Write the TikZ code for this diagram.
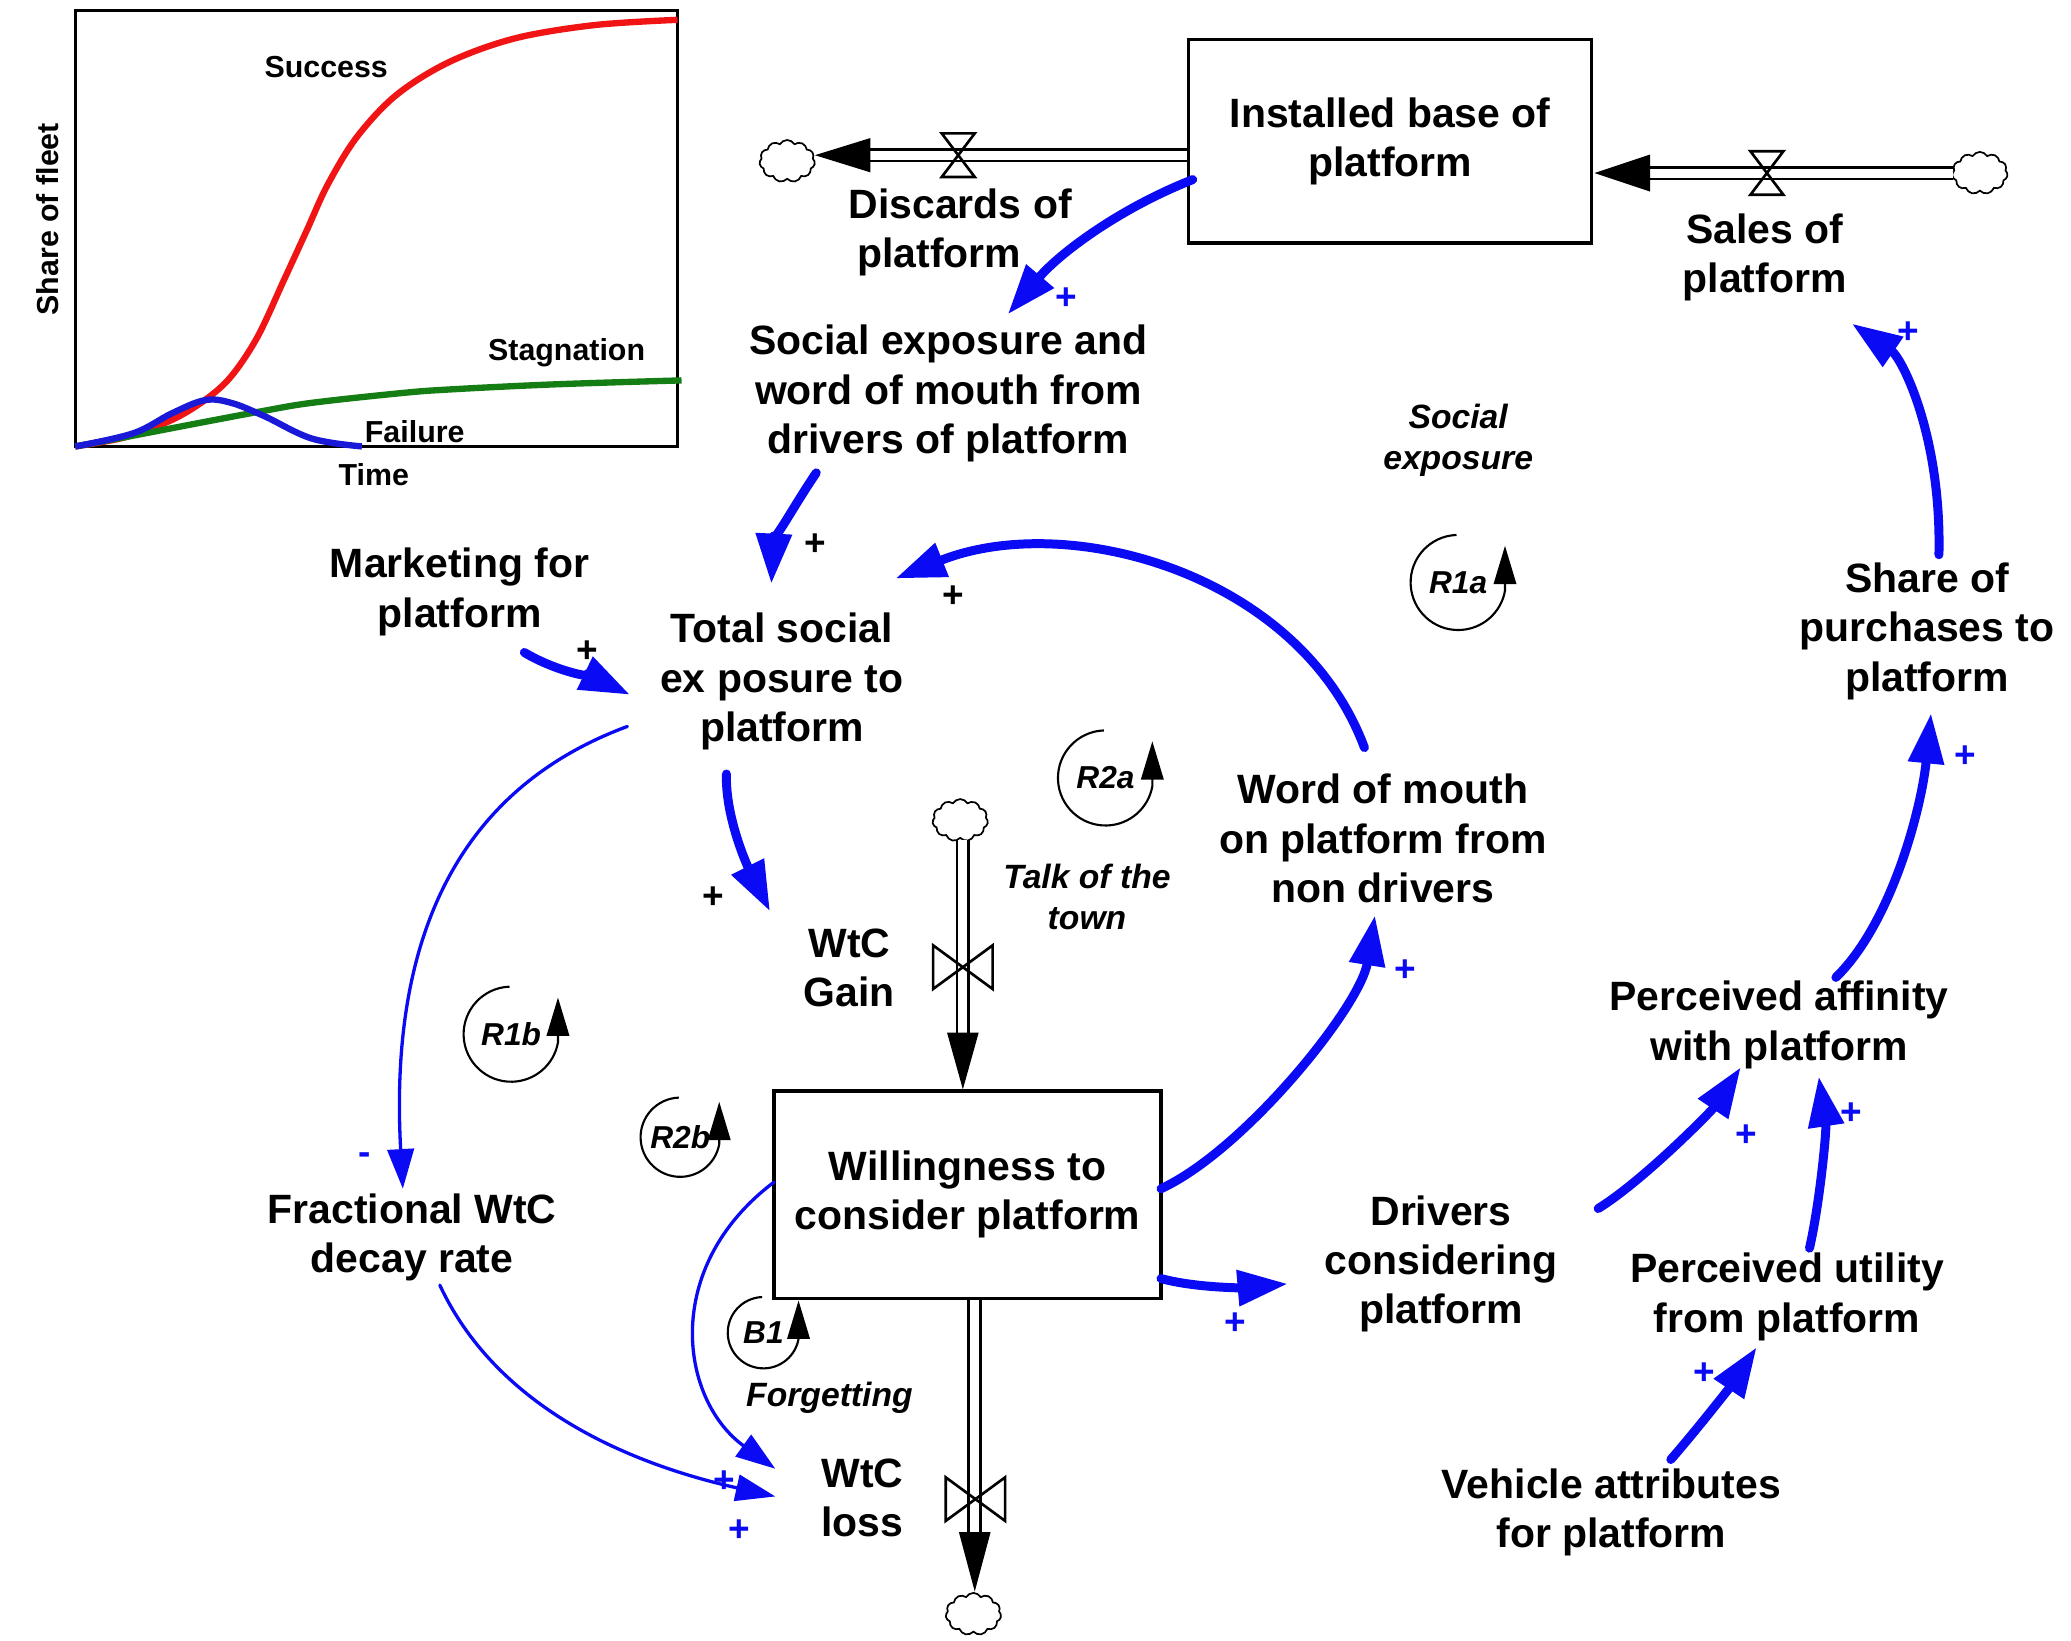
\documentclass[tikz,border=0pt]{standalone}
\usepackage{fontspec}
\setmainfont{Liberation Sans}
\usetikzlibrary{arrows.meta,shapes.symbols,calc}
\definecolor{cbl}{RGB}{10,10,245}
\definecolor{cred}{RGB}{240,20,20}
\definecolor{cgrn}{RGB}{20,125,20}
\definecolor{cfb}{RGB}{25,25,215}
\begin{document}
\begin{tikzpicture}[x=0.5pt,y=-0.5pt,
 txt/.style={font=\bfseries\fontsize{15.5}{18.7}\selectfont,align=center,inner sep=0pt},
 itx/.style={font=\bfseries\itshape\fontsize{12.75}{15.5}\selectfont,align=center,inner sep=0pt},
 ctx/.style={font=\bfseries\fontsize{11.5}{14}\selectfont,inner sep=0pt},
 stock/.style={txt,draw,line width=1.25pt},
 pipe/.style={draw=black,line width=1.05pt,double=white,double distance=3.4pt},
 valve/.style={draw=black,line width=1pt,line join=miter},
 cld/.style={cloud,cloud puffs=11,cloud puff arc=120,aspect=1.3,draw,line width=0.65pt,minimum width=21pt,minimum height=16pt,inner sep=0pt},
 lk/.style={draw=cbl,line width=3.4pt,line cap=round,-{Triangle[length=19pt,width=13pt]}},
 tl/.style={draw=cbl,line width=1.25pt,line cap=round,-{Triangle[length=15pt,width=10pt]}},
 pb/.style={text=cbl,font=\bfseries\fontsize{14}{14}\selectfont,inner sep=0pt},
 pk/.style={text=black,font=\bfseries\fontsize{14}{14}\selectfont,inner sep=0pt},
 lpl/.style={font=\bfseries\itshape\fontsize{12}{12}\selectfont,inner sep=0pt},
 lpa/.style={draw=black,line width=0.8pt,-{Triangle[length=14.5pt,width=8.5pt]}},
]
\path[use as bounding box,fill=white] (0,0) rectangle (1568,1242);

% ---------- inset chart ----------
\node[draw,line width=1pt,minimum width=228pt,minimum height=165pt,inner sep=0pt] (chart) at (285,173) {};
\draw[cred,line width=2.4pt] plot[smooth,tension=0.55] coordinates {(57,338) (95,331) (130,318) (155,303) (175,285) (195,255) (215,212) (232,175) (248,140) (270,104) (300,72) (340,47) (390,29) (450,19) (513,15)};
\draw[cgrn,line width=2.4pt] plot[smooth,tension=0.6] coordinates {(57,338) (100,330) (152,320) (200,311) (236,305) (300,298) (338,295) (420,291) (516,288)};
\draw[cfb,line width=2.4pt] plot[smooth,tension=0.6] coordinates {(57,338) (101,328) (130,313) (155,303) (175,305) (200,315) (236,332) (274,338)};
\node[ctx] (succ) at (247,51) {Success};
\node[ctx] (stag) at (429,267) {Stagnation};
\node[ctx] (fail) at (314,327) {Failure};
\node[ctx] (time) at (283,359) {Time};
\node[ctx,rotate=90] (yax) at (36,166) {Share of fleet};

% ---------- variables ----------
\node[stock,minimum width=152.5pt,minimum height=77pt] (inst) at (1052.5,107) {Installed base of\\platform};
\node[stock,minimum width=146.5pt,minimum height=78.5pt] (will) at (732.5,904.5) {Willingness to\\consider platform};
\node[txt] (disc) at (727,176) {Discards of\\platform\rule{16pt}{0pt}};
\node[txt] (sales) at (1336,195) {Sales of\\platform};
\node[txt] (social) at (718,298) {Social exposure and\\word of mouth from\\drivers of platform};
\node[txt] (mark) at (348,448) {Marketing for\\platform};
\node[txt] (total) at (592,516) {Total social\\ex posure to\\platform};
\node[txt] (wom) at (1047,635) {Word of mouth\\on platform from\\non drivers};
\node[txt] (share) at (1459,478) {Share of\\purchases to\\platform};
\node[txt] (gain) at (643,733) {WtC\\Gain};
\node[txt] (loss) at (653,1134) {WtC\\loss};
\node[txt] (drv) at (1091,957) {Drivers\\considering\\platform};
\node[txt] (aff) at (1347,776) {Perceived affinity\\with platform};
\node[txt] (util) at (1353,982) {Perceived utility\\from platform};
\node[txt] (veh) at (1220,1145) {Vehicle attributes\\for platform};
\node[txt] (frac) at (312,937) {Fractional WtC\\decay rate};
\node[itx] (sexp) at (1104,333) {Social\\exposure};
\node[itx] (talk) at (823,679) {Talk of the\\town};
\node[itx] (forg) at (628,1058) {Forgetting};

% ---------- clouds ----------
\node[cld] (c1) at (596,122) {};
\node[cld] (c2) at (1499,131) {};
\node[cld] (c3) at (727,621) {};
\node[cld] (c4) at (737,1222) {};

% ---------- flows ----------
\coordinate (dtip) at ($(c1)+(21,-4.5)$);
\draw[pipe] ($(inst.west)+(0,10.5)$) -- ($(dtip)+(40,0)$);
\fill (dtip) -- ++(42,-13) -- ++(0,26) -- cycle;
\draw[valve] ($(dtip)+(96,-16.5)$) -- ++(25,0) -- ++(-25,33) -- ++(25,0) -- cycle;

\coordinate (stip) at ($(inst.east)+(1,24)$);
\draw[pipe] ($(c2)+(-20,0)$) -- ($(stip)+(40,0)$);
\fill (stip) -- ++(42,-14) -- ++(0,28) -- cycle;
\draw[valve] ($(stip)+(118,-16.5)$) -- ++(25,0) -- ++(-25,33) -- ++(25,0) -- cycle;

\coordinate (gtip) at ($(will.north)+(-3.5,0)$);
\draw[pipe] ($(c3)+(2,15)$) -- ($(gtip)+(0,-42)$);
\fill (gtip) -- ++(-12,-43) -- ++(24,0) -- cycle;
\draw[valve] ($(gtip)+(-22.5,-109)$) -- ++(0,33) -- ++(45,-33) -- ++(0,33) -- cycle;

\coordinate (ltip) at ($(c4)+(1,-17)$);
\draw[pipe] ($(will.south)+(5.5,0)$) -- ($(ltip)+(0,-43)$);
\fill (ltip) -- ++(-12,-45) -- ++(24,0) -- cycle;
\draw[valve] ($(ltip)+(-22,-86.5)$) -- ++(0,33) -- ++(45,-33) -- ++(0,33) -- cycle;

% ---------- causal links ----------
\draw[lk] ($(inst)+(-149.5,29)$) .. controls +(-56,22) and +(39,-46) .. ($(social)+(45,-60)$);
\draw[lk] ($(social)+(-100,60)$) .. controls +(-17,25) and +(1.5,-30) .. ($(total)+(-8,-74)$);
\draw[lk] ($(mark)+(49,46)$) .. controls +(25,15) and +(-25,-12) .. ($(total)+(-115,10)$);
\draw[lk] ($(wom)+(-14,-69)$) .. controls +(-49,-132) and +(130,-52) .. ($(total)+(86,-78)$);
\draw[lk] ($(share)+(9,-58)$) .. controls +(2,-90) and +(38,26) .. ($(sales)+(66,50)$);
\draw[lk] ($(total)+(-42,70)$) .. controls +(-1,34) and +(-16,-32) .. ($(gain)+(-60,-43)$);
\draw[tl] ($(total)+(-117,34)$) .. controls +(-135,50) and +(-10,-180) .. ($(frac)+(-7,-37)$);
\draw[lk] ($(will)+(146.5,-4.5)$) .. controls +(63,-29) and +(-11,69) .. ($(wom)+(-6,58)$);
\draw[lk] ($(will)+(146.5,63.5)$) .. controls +(26,7) and +(-35,3) .. ($(drv)+(-116,15)$);
\draw[lk] ($(drv)+(119,-42)$) .. controls +(34,-21) and +(-22,33) .. ($(aff)+(-29,32)$);
\draw[lk] ($(aff)+(43,-36)$) .. controls +(43,-42) and +(-7,70) .. ($(share)+(3,62)$);
\draw[lk] ($(util)+(17,-37)$) .. controls +(8,-35) and +(6,40) .. ($(aff)+(30,39)$);
\draw[lk] ($(veh)+(45,-40)$) .. controls +(20,-23) and +(-20,30) .. ($(util)+(-23,38)$);
\draw[tl] ($(frac)+(21,36)$) .. controls +(42,90) and +(-116,-26) .. ($(loss)+(-66,-1)$);
\draw[tl] ($(will)+(-146.5,-9.5)$) .. controls +(-86,65) and +(-72,-52) .. ($(loss)+(-66,-22)$);

% ---------- polarities ----------
\node[pk] (p1) at (617,412) {+};
\node[pk] (p2) at (445,493) {+};
\node[pk] (p3) at (722,452) {+};
\node[pk] (p4) at (540,680) {+};
\node[pb] (p5) at (807,226) {+};
\node[pb] (p6) at (1445,252) {+};
\node[pb] (p7) at (1064,735) {+};
\node[pb] (p8) at (935,1002) {+};
\node[pb] (p9) at (1322,860) {+};
\node[pb] (p10) at (1488,573) {+};
\node[pb] (p11) at (1402,843) {+};
\node[pb] (p12) at (1290,1040) {+};
\node[pb] (p13) at (548,1122) {+};
\node[pb] (p14) at (560,1159) {+};
\node[pb] (p15) at (276,877) {-};

% ---------- loop markers ----------
\node[lpl] (r1a) at (1104,441) {R1a};
\draw[lpa] ($(r1a)+(-92:36)$) arc[start angle=-92,end angle=-350,radius=36] -- ++(0,-34);
\node[lpl] (r2a) at (837,589) {R2a};
\draw[lpa] ($(r2a)+(-92:36)$) arc[start angle=-92,end angle=-350,radius=36] -- ++(0,-34);
\node[lpl] (r1b) at (387,783) {R1b};
\draw[lpa] ($(r1b)+(-92:36)$) arc[start angle=-92,end angle=-350,radius=36] -- ++(0,-34);
\node[lpl] (r2b) at (515,861) {R2b};
\draw[lpa] ($(r2b)+(-92:30)$) arc[start angle=-92,end angle=-350,radius=30] -- ++(0,-32);
\node[lpl] (b1) at (578,1009) {B1};
\draw[lpa] ($(b1)+(-92:27)$) arc[start angle=-92,end angle=-350,radius=27] -- ++(0,-29);
\end{tikzpicture}
\end{document}
